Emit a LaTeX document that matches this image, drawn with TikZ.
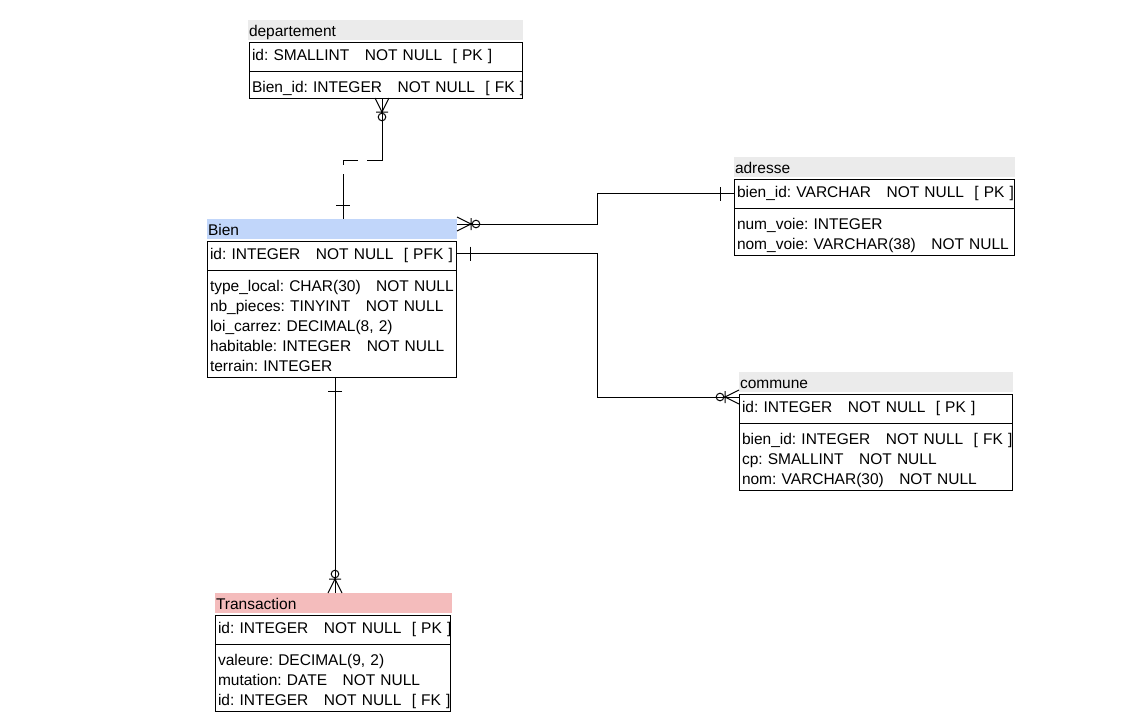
\documentclass[tikz,border=0pt]{standalone}
\usepackage{fontspec}
\setmainfont{Liberation Sans}
\usetikzlibrary{positioning}
\definecolor{hgray}{RGB}{235,235,235}
\definecolor{hblue}{RGB}{193,214,250}
\definecolor{hpink}{RGB}{244,188,188}
\begin{document}
\begin{tikzpicture}[x=1pt,y=-1pt,line width=1pt,font={\fontsize{15.5}{20}\selectfont\hyphenpenalty=10000\exhyphenpenalty=10000},
    head/.style={anchor=north west,outer sep=0pt,inner xsep=1pt,inner ysep=0pt,text height=16pt,text depth=4pt,align=left},
    keyrow/.style={draw,anchor=north west,outer sep=0pt,inner xsep=3pt,inner ysep=0pt,text height=18pt,text depth=11pt,align=left},
    cols/.style={draw,anchor=north west,outer sep=0pt,inner xsep=3pt,inner ysep=0pt,text height=21pt,text depth=#1,align=left},
    one/.pic={\draw (14,-7)--(14,7);},
    zmany/.pic={\draw (0,-7)--(14,0)--(0,7) (14,-6)--(14,6) (19,0) circle(3.8);}]
    \fill[white] (0,0) rectangle (1142,726);
    \useasboundingbox (0,0) rectangle (1142,726);
    % departement
    \node[head,fill=hgray,text width=273pt] (depH) at (248,20) {departement};
    \node[keyrow,text width=267pt] (depK) at (249,42) {id:~SMALLINT~~~NOT~NULL~~[~PK~]};
    \node[cols=6pt,text width=267pt] (depA) at (depK.south west) {Bien\_id:~INTEGER~~~NOT~NULL~~[~FK~]};
    % Bien
    \node[head,fill=hblue,text width=248pt] (bienH) at (207,219) {Bien};
    \node[keyrow,text width=243pt] (bienK) at (207,241) {id:~INTEGER~~~NOT~NULL~~[~PFK~]};
    \node[cols=86pt,text width=243pt] (bienA) at (bienK.south west) {type\_local:~CHAR(30)~~~NOT~NULL\\nb\_pieces:~TINYINT~~~NOT~NULL\\loi\_carrez:~DECIMAL(8,~2)\\habitable:~INTEGER~~~NOT~NULL\\terrain:~INTEGER};
    % adresse
    \node[head,fill=hgray,text width=279pt] (adH) at (734,157) {adresse};
    \node[keyrow,text width=274pt] (adK) at (734,179) {bien\_id:~VARCHAR~~~NOT~NULL~~[~PK~]};
    \node[cols=26pt,text width=274pt] (adA) at (adK.south west) {num\_voie:~INTEGER\\nom\_voie:~VARCHAR(38)~~~NOT~NULL};
    % commune
    \node[head,fill=hgray,text width=272pt] (comH) at (739,372) {commune};
    \node[keyrow,text width=267pt] (comK) at (739,394) {id:~INTEGER~~~NOT~NULL~~[~PK~]};
    \node[cols=46pt,text width=267pt] (comA) at (comK.south west) {bien\_id:~INTEGER~~~NOT~NULL~~[~FK~]\\cp:~SMALLINT~~~NOT~NULL\\nom:~VARCHAR(30)~~~NOT~NULL};
    % Transaction
    \node[head,fill=hpink,text width=235pt] (trH) at (215,593) {Transaction};
    \node[keyrow,text width=229pt] (trK) at (215,615) {id:~INTEGER~~~NOT~NULL~~[~PK~]};
    \node[cols=46pt,text width=229pt] (trA) at (trK.south west) {valeure:~DECIMAL(9,~2)\\mutation:~DATE~~~NOT~NULL\\id:~INTEGER~~~NOT~NULL~~[~FK~]};
    % links
    \coordinate (dx) at (382,0);
    \coordinate (bx) at (343,0);
    \coordinate (bend) at (597,0);
    \coordinate (tx) at (335,0);
    \draw (dx |- depA.south) -- ++(0,57) coordinate (d1);
    \draw[dash pattern=on 20pt off 9pt] (d1) -- ++(0,5) -| ++(-39,14) coordinate (d2);
    \draw (d2) -- (bx |- bienH.north);
    \pic[rotate=-90] at (dx |- depA.south) {zmany};
    \pic[rotate=90] at (bx |- bienH.north) {one};
    \coordinate (aB) at ([yshift=-5pt]bienH.north east);
    \draw (aB) -- (aB -| bend) |- (adK.west);
    \pic at (aB) {zmany};
    \pic[rotate=180] at (adK.west) {one};
    \coordinate (cA) at ([yshift=2pt]bienK.east);
    \coordinate (cB) at ([yshift=-3pt]comK.north west);
    \draw (cA) -- (cA -| bend) |- (cB);
    \pic at (cA) {one};
    \pic[rotate=180] at (cB) {zmany};
    \draw (tx |- bienA.south) -- (tx |- trH.north);
    \pic[rotate=-90] at (tx |- bienA.south) {one};
    \pic[rotate=90] at (tx |- trH.north) {zmany};
\end{tikzpicture}
\end{document}
